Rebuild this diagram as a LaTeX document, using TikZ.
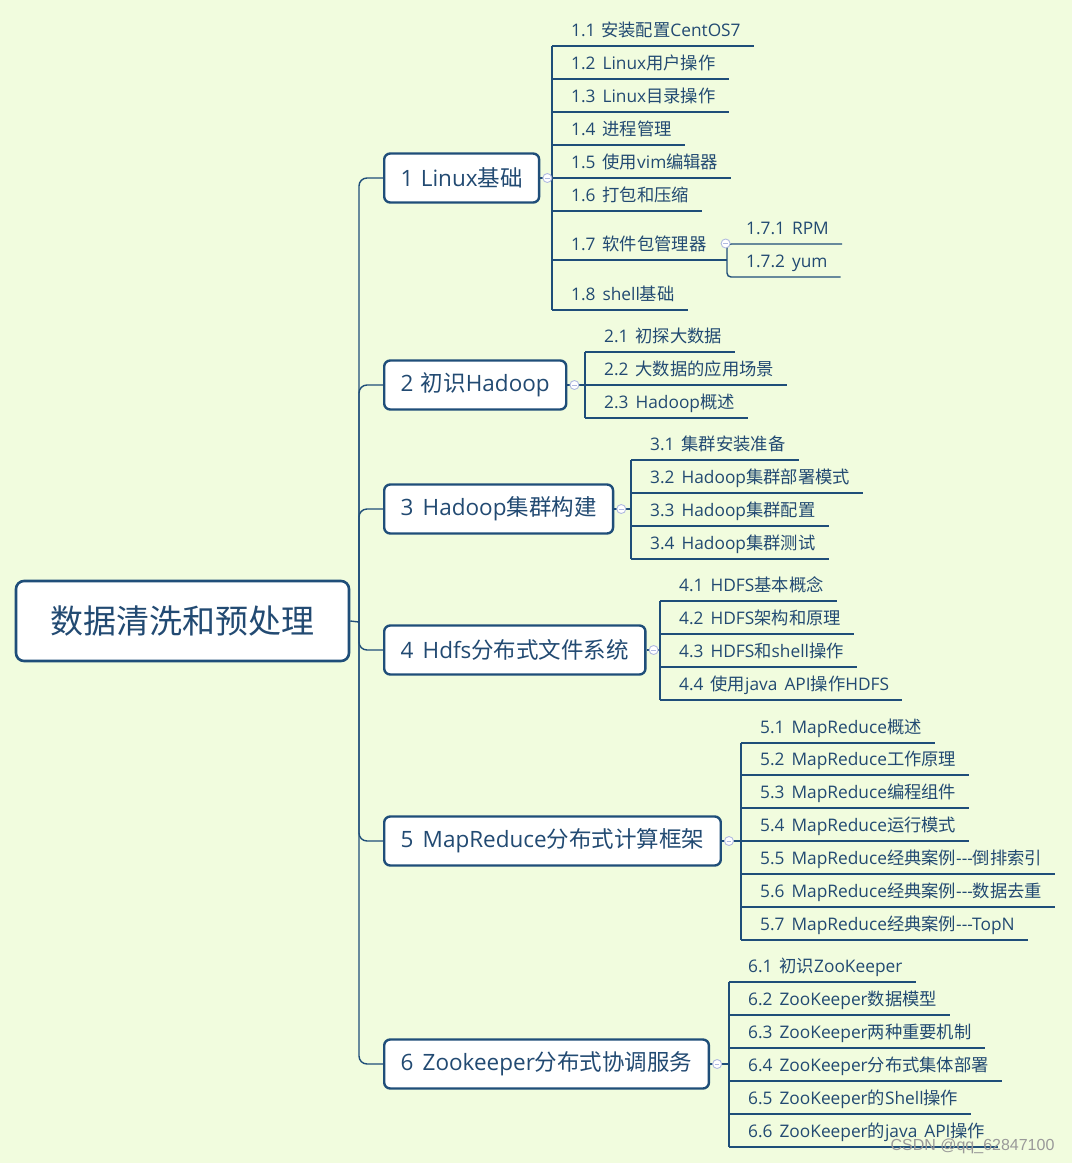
\documentclass[tikz,border=0pt]{standalone}
\usepackage{fontspec}
\setmainfont{Open Sans}[Ligatures=TeXOff, WordSpace=1.25]
\newfontfamily\cjkfont{Noto Sans CJK SC}
\newfontfamily\latinfont{Open Sans}[Ligatures=TeXOff, WordSpace=1.25]
\newfontfamily\markfont{Liberation Sans}
% CJK characters in the CJK font, the rest in Open Sans
\XeTeXinterchartokenstate=1
\newXeTeXintercharclass\cjkcls
\count255="4E00
\loop
  \XeTeXcharclass\count255=\cjkcls
  \ifnum\count255<"9FFF \advance\count255 by 1 \repeat
\XeTeXinterchartoks 0 \cjkcls = {\cjkfont}
\XeTeXinterchartoks 4095 \cjkcls = {\cjkfont}
\XeTeXinterchartoks \cjkcls 0 = {\latinfont}
\usetikzlibrary{positioning, calc}
\definecolor{bgc}{RGB}{241,252,222}
\definecolor{linec}{RGB}{31,78,121}
\definecolor{textc}{RGB}{34,74,114}
\definecolor{foldc}{RGB}{176,186,224}
\tikzset{
  link/.style={draw=linec, line width=1.4pt},
  rootbox/.style={draw=linec, line width=2.6pt, fill=white, rounded corners=8pt,
      minimum width=333pt, minimum height=80pt, text=textc, font=\fontsize{33}{36}\selectfont},
  topic/.style={draw=linec, line width=2.4pt, fill=white, rounded corners=6pt, anchor=west,
      minimum height=49pt, inner xsep=16.5pt, text=textc, font=\fontsize{22.5}{26}\selectfont},
  fold/.style={circle, draw=foldc, fill=white, line width=0.9pt, minimum size=9pt, inner sep=0pt,
      path picture={\draw[foldc, line width=0.8pt] ([xshift=-2.3pt]path picture bounding box.center)
        -- ([xshift=2.3pt]path picture bounding box.center);}},
  sub/.style={anchor=south west, inner xsep=13pt, inner ysep=9pt, text depth=0pt, text=textc,
      font=\fontsize{17.3}{20}\selectfont, execute at begin node=\hspace*{6pt}},
  subline/.style={sub, append after command={(\tikzlastnode.south west) edge[link] (\tikzlastnode.south east)}},
}

\begin{document}
\begin{tikzpicture}[x=1pt, y=-1pt]
  % background
  \fill[bgc] (0,0) rectangle (1072,1163);
  \useasboundingbox (0,0) rectangle (1072,1163);
  % root and main topics
  \node[rootbox] (root) at (182.5,621) {数据清洗和预处理};
  \node[topic] (t1) at (383,178) {1 Linux基础};
  \node[topic] (t2) at (383,385) {2 初识Hadoop};
  \node[topic] (t3) at (383,509) {3 Hadoop集群构建};
  \node[topic] (t4) at (383,650) {4 Hdfs分布式文件系统};
  \node[topic] (t5) at (383,841) {5 MapReduce分布式计算框架};
  \node[topic] (t6) at (383,1064) {6 Zookeeper分布式协调服务};
  % trunk
  \coordinate (trunk) at (359,622);
  \draw[link] (root.east) -- (trunk);
  \foreach \i in {1,...,6}
    \draw[link, rounded corners=8pt] (trunk) |- (t\i.west);

  % 1 Linux
  \node[subline] (s11) at (552,46) {1.1 安装配置CentOS7};
  \node[subline] (s12) at (552,79) {1.2 Linux用户操作};
  \node[subline] (s13) at (552,112) {1.3 Linux目录操作};
  \node[subline] (s14) at (552,145) {1.4 进程管理};
  \node[subline] (s15) at (552,178) {1.5 使用vim编辑器};
  \node[subline] (s16) at (552,211) {1.6 打包和压缩};
  \node[subline] (s17) at (552,260) {1.7 软件包管理器};
  \node[subline] (s18) at (552,310) {1.8 shell基础};
  \node[sub] (s171) at (727,244) {1.7.1 RPM};
  \node[sub] (s172) at (727,277) {1.7.2 yum};
  \draw[link] (s11.south west) -- (s18.south west);
  \draw[link] (s17.south east) -- (s17.south east -| s171.south west);
  \draw[link, rounded corners=4pt] (s171.south east) -- (s171.south west)
    -- (s172.south west) -- (s172.south east);
  \node[fold] (f17) at ([xshift=6pt]s17.east) {};
  \draw[link] (t1.east) -- (t1.east -| s11.south west);
  \node[fold] (f1) at ([xshift=7pt]t1.east) {};

  % 2 Hadoop
  \node[subline] (s21) at (585,352) {2.1 初探大数据};
  \node[subline] (s22) at (585,385) {2.2 大数据的应用场景};
  \node[subline] (s23) at (585,418) {2.3 Hadoop概述};
  \draw[link] (s21.south west) -- (s23.south west);
  \draw[link] (t2.east) -- (t2.east -| s21.south west);
  \node[fold] (f2) at ([xshift=7pt]t2.east) {};

  % 3 cluster
  \node[subline] (s31) at (631,460) {3.1 集群安装准备};
  \node[subline] (s32) at (631,493) {3.2 Hadoop集群部署模式};
  \node[subline] (s33) at (631,526) {3.3 Hadoop集群配置};
  \node[subline] (s34) at (631,559) {3.4 Hadoop集群测试};
  \draw[link] (s31.south west) -- (s34.south west);
  \draw[link] (t3.east) -- (t3.east -| s31.south west);
  \node[fold] (f3) at ([xshift=7pt]t3.east) {};

  % 4 HDFS
  \node[subline] (s41) at (660,601) {4.1 HDFS基本概念};
  \node[subline] (s42) at (660,634) {4.2 HDFS架构和原理};
  \node[subline] (s43) at (660,667) {4.3 HDFS和shell操作};
  \node[subline] (s44) at (660,700) {4.4 使用java API操作HDFS};
  \draw[link] (s41.south west) -- (s44.south west);
  \draw[link] (t4.east) -- (t4.east -| s41.south west);
  \node[fold] (f4) at ([xshift=7pt]t4.east) {};

  % 5 MapReduce
  \node[subline] (s51) at (741,743) {5.1 MapReduce概述};
  \node[subline] (s52) at (741,775) {5.2 MapReduce工作原理};
  \node[subline] (s53) at (741,808) {5.3 MapReduce编程组件};
  \node[subline] (s54) at (741,841) {5.4 MapReduce运行模式};
  \node[subline] (s55) at (741,874) {5.5 MapReduce经典案例---倒排索引};
  \node[subline] (s56) at (741,907) {5.6 MapReduce经典案例---数据去重};
  \node[subline] (s57) at (741,940) {5.7 MapReduce经典案例---TopN};
  \draw[link] (s51.south west) -- (s57.south west);
  \draw[link] (t5.east) -- (t5.east -| s51.south west);
  \node[fold] (f5) at ([xshift=7pt]t5.east) {};

  % 6 ZooKeeper
  \node[subline] (s61) at (729,982) {6.1 初识ZooKeeper};
  \node[subline] (s62) at (729,1015) {6.2 ZooKeeper数据模型};
  \node[subline] (s63) at (729,1048) {6.3 ZooKeeper两种重要机制};
  \node[subline] (s64) at (729,1081) {6.4 ZooKeeper分布式集体部署};
  \node[subline] (s65) at (729,1114) {6.5 ZooKeeper的Shell操作};
  \node[subline] (s66) at (729,1147) {6.6 ZooKeeper的java API操作};
  \draw[link] (s61.south west) -- (s66.south west);
  \draw[link] (t6.east) -- (t6.east -| s61.south west);
  \node[fold] (f6) at ([xshift=7pt]t6.east) {};

  % watermark
  \node[anchor=east, text=black!40, font=\markfont\fontsize{16}{18}\selectfont] (wm) at (1058,1146) {CSDN @qq\_62847100};
\end{tikzpicture}
\end{document}
